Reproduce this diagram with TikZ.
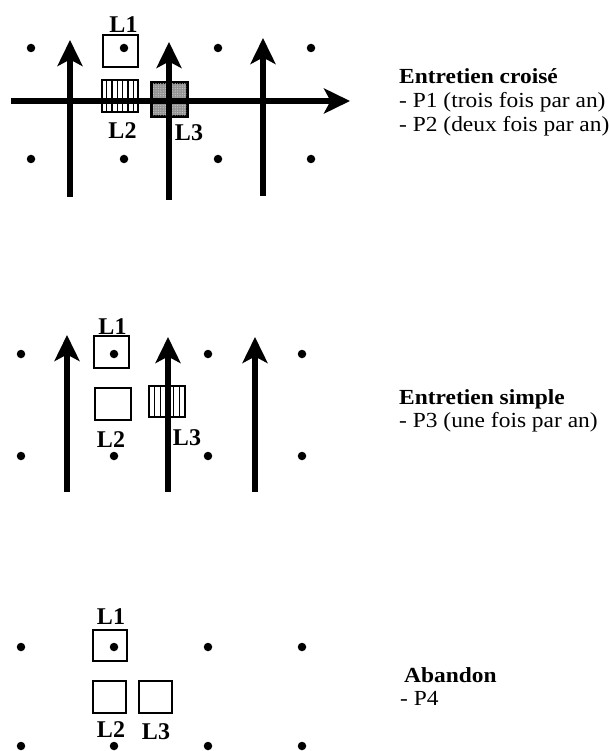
\documentclass[tikz,border=0pt]{standalone}
\usepackage{fontspec}
\setmainfont{Liberation Serif}
\usetikzlibrary{arrows.meta,calc,patterns.meta}
\newcommand{\wtxt}[1]{\scalebox{1.09}[1]{#1}}
\tikzset{
  pt/.style={circle,fill=black,inner sep=0pt,minimum size=8.5pt},
  sq/.style={draw=black,line width=1.4pt,inner sep=0pt,fill=white},
  lbl/.style={inner sep=0pt,font=\fontsize{24}{26}\selectfont\bfseries},
  rtxt/.style={inner sep=0pt,anchor=base west,font=\fontsize{21.5}{24}\selectfont},
  rhead/.style={rtxt,font=\fontsize{21.5}{24}\selectfont\bfseries},
  bigarrow/.style={line width=5.5pt,-{Stealth[length=26pt,width=25pt,inset=6.5pt]}},
}
\begin{document}
\begin{tikzpicture}[x=1pt,y=-1pt]
\useasboundingbox (0,0) rectangle (608,751);
% ---------------- Panel 1 ----------------
\foreach \x/\n in {31/a,124/b,218/c,311/d}{
  \node[pt] (p1t\n) at (\x,48) {};
  \node[pt] (p1b\n) at (\x,159) {};
}
\node[sq,minimum width=35pt,minimum height=32pt,fill=none] (p1L1) at (120.5,51) {};
\node[sq,minimum width=36pt,minimum height=32pt] (p1L2) at (120,96) {};
\foreach \f in {1,...,6}{
  \draw[line width=1.1pt] ($(p1L2.north west)!\f/7!(p1L2.north east)$) -- ($(p1L2.south west)!\f/7!(p1L2.south east)$);
}
\node[sq,minimum width=35pt,minimum height=33pt,fill=black!42,line width=1.6pt] (p1L3) at (169.5,99.5) {};
\fill[pattern={Dots[distance=2.4pt,radius=0.6pt]},pattern color=white!80!black] (p1L3.south west) rectangle (p1L3.north east);
\draw[line width=1.6pt] (p1L3.south west) rectangle (p1L3.north east);
\coordinate (h1s) at (11,101);
\coordinate (h1e) at (350,101);
\coordinate (v1as) at (70,197);  \coordinate (v1ae) at (70,40);
\coordinate (v1bs) at (169,200); \coordinate (v1be) at (169,42);
\coordinate (v1cs) at (263,196); \coordinate (v1ce) at (263,38);
\draw[bigarrow] (h1s) -- (h1e);
\draw[bigarrow] (v1as) -- (v1ae);
\draw[bigarrow] (v1bs) -- (v1be);
\draw[bigarrow] (v1cs) -- (v1ce);
\node[lbl] (p1l1) at (123.5,25) {L1};
\node[lbl] (p1l2) at (122.5,131) {L2};
\node[lbl] (p1l3) at (189,133) {L3};
\node[rhead] (t1a) at (399,84) {\wtxt{Entretien croisé}};
\node[rtxt] (t1b) at (399,108) {\wtxt{- P1 (trois fois par an)}};
\node[rtxt] (t1c) at (399,132) {\wtxt{- P2 (deux fois par an)}};
% ---------------- Panel 2 ----------------
\foreach \x/\n in {21/a,114/b,208/c,302/d}{
  \node[pt] (p2t\n) at (\x,354) {};
  \node[pt] (p2b\n) at (\x,456) {};
}
\node[sq,minimum width=35pt,minimum height=32pt,fill=none] (p2L1) at (111.5,352) {};
\node[sq,minimum width=36pt,minimum height=32pt] (p2L2) at (113,404) {};
\node[sq,minimum width=36pt,minimum height=31pt] (p2L3) at (167,401.5) {};
\foreach \f in {1,...,5}{
  \draw[line width=1.1pt] ($(p2L3.north west)!\f/6!(p2L3.north east)$) -- ($(p2L3.south west)!\f/6!(p2L3.south east)$);
}
\coordinate (v2as) at (67,492);  \coordinate (v2ae) at (67,335);
\coordinate (v2bs) at (168,492); \coordinate (v2be) at (168,337);
\coordinate (v2cs) at (255,492); \coordinate (v2ce) at (255,337);
\draw[bigarrow] (v2as) -- (v2ae);
\draw[bigarrow] (v2bs) -- (v2be);
\draw[bigarrow] (v2cs) -- (v2ce);
\node[lbl] (p2l1) at (112.5,327) {L1};
\node[lbl] (p2l2) at (111,440) {L2};
\node[lbl] (p2l3) at (187,438) {L3};
\node[rhead] (t2a) at (399,404) {\wtxt{Entretien simple}};
\node[rtxt] (t2b) at (399,427) {\wtxt{- P3 (une fois par an)}};
% ---------------- Panel 3 ----------------
\foreach \x/\n in {21/a,114/b,208/c,302/d}{
  \node[pt] (p3t\n) at (\x,647) {};
  \node[pt] (p3b\n) at (\x,746) {};
}
\node[sq,minimum width=34pt,minimum height=31pt,fill=none] (p3L1) at (110,645.5) {};
\node[sq,minimum width=33pt,minimum height=32pt] (p3L2) at (109.5,697) {};
\node[sq,minimum width=33pt,minimum height=32pt] (p3L3) at (155.5,697) {};
\node[lbl] (p3l1) at (111,617) {L1};
\node[lbl] (p3l2) at (111,730) {L2};
\node[lbl] (p3l3) at (156,732) {L3};
\node[rhead] (t3a) at (404,682) {\wtxt{Abandon}};
\node[rtxt] (t3b) at (400,705) {\wtxt{- P4}};
\end{tikzpicture}
\end{document}
